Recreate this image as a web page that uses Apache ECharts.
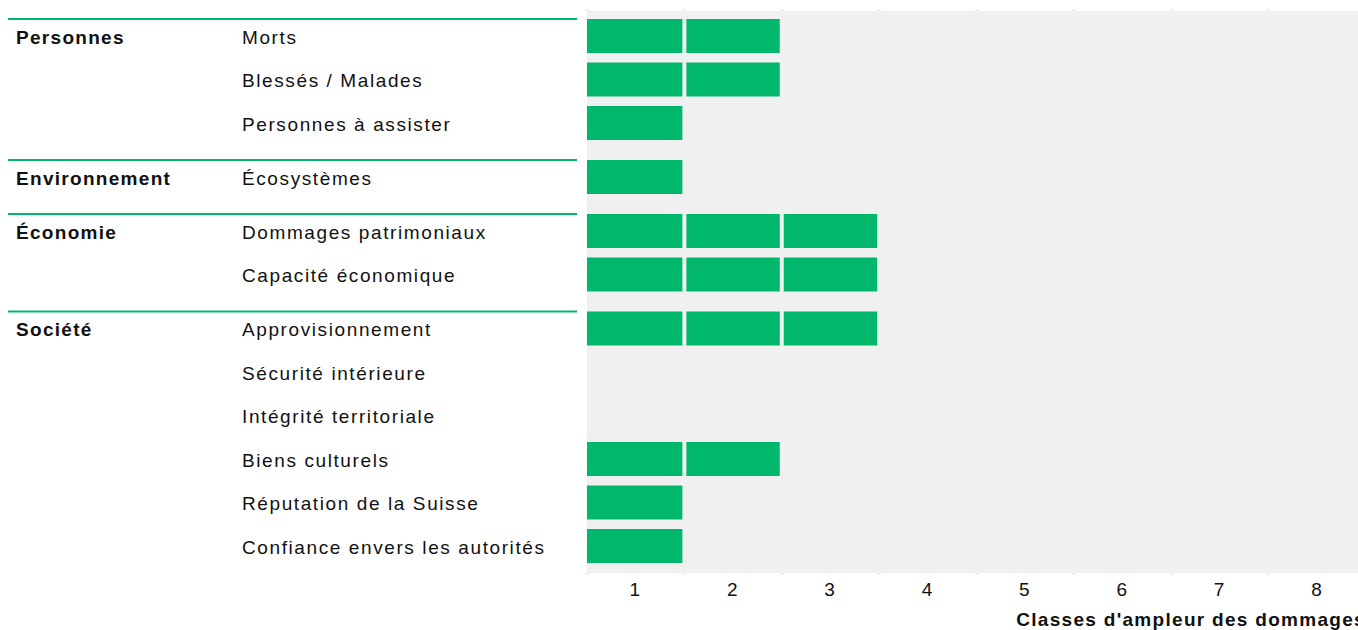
<!DOCTYPE html>
<html>
<head>
<meta charset="utf-8">
<script src="https://cdn.jsdelivr.net/npm/echarts@6.0.0/dist/echarts.min.js"></script>
<style>
    html, body { margin: 0; padding: 0; background: #fff; }
    #chart { width: 1358px; height: 630px; }
    /* le texte de la référence est plus espacé que Liberation Sans */
    #chart text { letter-spacing: 1.6px; }
    #chart text[style*="bold"], #chart text[font-weight="bold"] { letter-spacing: 1.3px; }
</style>
</head>
<body>
<div id="chart"></div>
<script>
// données
const groupNames = ['Personnes', 'Environnement', 'Économie', 'Société'];
const indicatorNames = [
    'Morts', 'Blessés / Malades', 'Personnes à assister',
    'Écosystèmes',
    'Dommages patrimoniaux', 'Capacité économique',
    'Approvisionnement', 'Sécurité intérieure', 'Intégrité territoriale',
    'Biens culturels', 'Réputation de la Suisse', 'Confiance envers les autorités'
];
const indicatorGroup = [0, 0, 0, 1, 2, 2, 3, 3, 3, 3, 3, 3];
const damageClass = [2, 2, 1, 1, 3, 3, 3, 0, 0, 2, 1, 1];
const classLabels = ['1', '2', '3', '4', '5', '6', '7', '8'];
const axisTitle = "Classes d'ampleur des dommages";

// mise en page
const GREEN = '#00b76b';
const GREY = '#f0f0f0';
const FONT = 'Liberation Sans';
const plotLeft = 587;
const plotWidth = 779;
const rowH = 43.5;
const barH = 34;
const groupGap = 10.5;
const firstTop = 14.25;

const chart = echarts.init(document.getElementById('chart'), null, { renderer: 'svg' });

const grids = [{
    left: plotLeft, width: plotWidth, top: 11, height: 562,
    outerBoundsMode: 'none',
    show: true, backgroundColor: GREY, borderWidth: 0
}];
const xAxes = [{
    gridIndex: 0,
    type: 'category',
    data: classLabels,
    axisLine: { show: false },
    axisTick: { show: true, length: 2, lineStyle: { color: GREY, width: 4 } },
    axisLabel: { fontFamily: FONT, fontSize: 19, color: '#111', margin: 7 },
    name: axisTitle,
    nameLocation: 'end',
    nameGap: 0,
    nameTextStyle: {
        fontFamily: FONT, fontSize: 19, fontWeight: 'bold', color: '#111',
        align: 'right', verticalAlign: 'top', padding: [37, 0, 0, 0]
    }
}, {
    gridIndex: 0,
    type: 'category',
    position: 'top',
    data: classLabels,
    axisLine: { show: false },
    axisTick: { show: true, length: 2, lineStyle: { color: GREY, width: 4 } },
    axisLabel: { show: false }
}];
const yAxes = [{ gridIndex: 0, type: 'value', show: false }];
const series = [];
const lines = [];

let groupTop = firstTop;
groupNames.forEach(function (group, g) {
    const idx = [];
    indicatorGroup.forEach(function (gi, i) { if (gi === g) idx.push(i); });
    const names = idx.map(function (i) { return indicatorNames[i]; });
    grids.push({
        left: plotLeft, width: plotWidth, top: groupTop, height: idx.length * rowH,
        outerBoundsMode: 'none'
    });
    xAxes.push({ gridIndex: g + 1, type: 'value', min: 0, max: 8, show: false });
    yAxes.push({
        gridIndex: g + 1,
        type: 'category',
        inverse: true,
        data: names,
        axisLine: { show: false },
        axisTick: { show: false },
        axisLabel: {
            interval: 0,
            align: 'left',
            margin: plotLeft - 16,
            formatter: function (value, index) {
                return (index === 0 ? '{g|' + group + '}' : '{g| }') + '{i|' + value + '}';
            },
            rich: {
                g: { width: 226, padding: [2, 0, 0, 0], fontFamily: FONT, fontSize: 19, fontWeight: 'bold', color: '#111' },
                i: { padding: [2, 0, 0, 0], fontFamily: FONT, fontSize: 19, color: '#111' }
            }
        }
    });
    series.push({
        type: 'custom',
        xAxisIndex: g + 2,
        yAxisIndex: g + 1,
        encode: { x: 0, y: 1 },
        data: idx.map(function (i, r) { return [damageClass[i], r]; }),
        renderItem: function (params, api) {
            const v = api.value(0);
            const row = api.value(1);
            const children = [];
            for (let k = 0; k < v; k++) {
                const a = api.coord([k, row]);
                const b = api.coord([k + 1, row]);
                const x0 = a[0] + (k === 0 ? 0 : 2);
                const x1 = b[0] - 2;
                children.push({
                    type: 'rect',
                    shape: { x: x0, y: a[1] - barH / 2, width: x1 - x0, height: barH },
                    style: { fill: GREEN }
                });
            }
            return { type: 'group', children: children };
        }
    });
    // ligne verte au-dessus de chaque groupe
    const ly = groupTop + (rowH - barH) / 2;
    lines.push({
        type: 'line',
        shape: { x1: 8, y1: ly, x2: 577, y2: ly },
        style: { stroke: GREEN, lineWidth: 2 }
    });
    groupTop += idx.length * rowH + groupGap;
});

chart.setOption({
    animation: false,
    grid: grids,
    xAxis: xAxes,
    yAxis: yAxes,
    series: series,
    graphic: lines
});
</script>
</body>
</html>
